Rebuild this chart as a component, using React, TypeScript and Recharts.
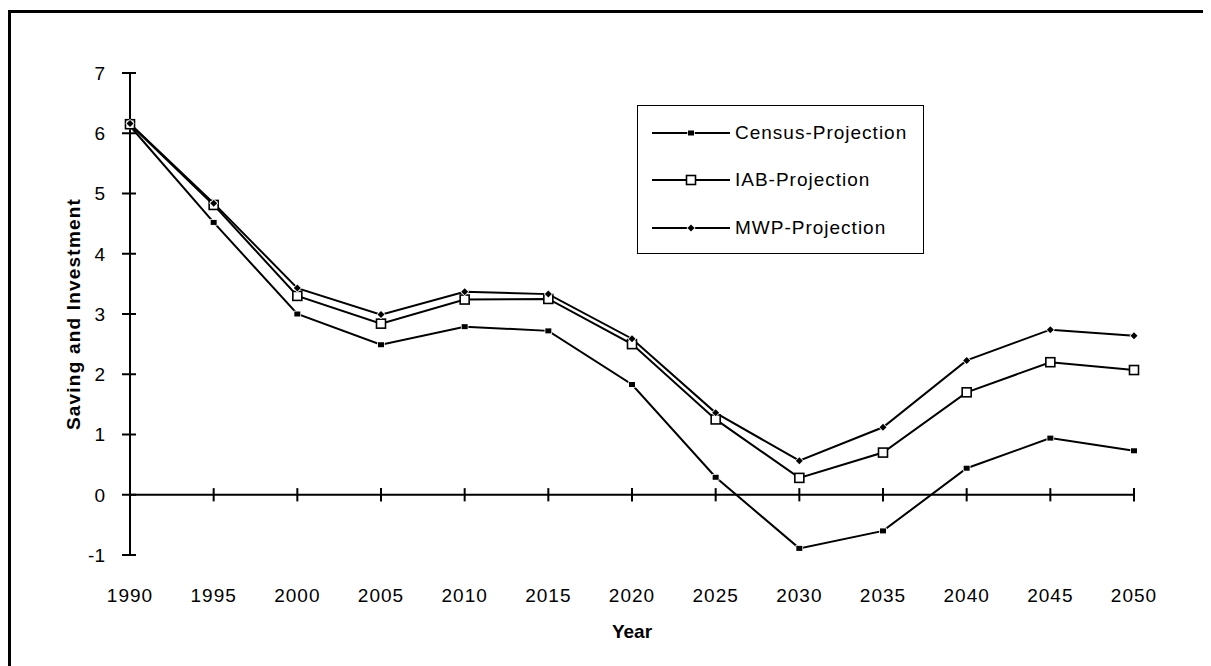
import React from "react";
import { LineChart, Line, XAxis, YAxis, ReferenceLine } from "recharts";

const years = [1990, 1995, 2000, 2005, 2010, 2015, 2020, 2025, 2030, 2035, 2040, 2045, 2050];
const census = [6.12, 4.52, 3.0, 2.49, 2.79, 2.72, 1.83, 0.29, -0.89, -0.6, 0.44, 0.94, 0.73];
const iab = [6.15, 4.81, 3.3, 2.84, 3.24, 3.25, 2.5, 1.25, 0.28, 0.7, 1.7, 2.2, 2.07];
const mwp = [6.16, 4.84, 3.43, 2.99, 3.37, 3.33, 2.59, 1.36, 0.565, 1.12, 2.23, 2.74, 2.64];
const yTicks = [-1, 0, 1, 2, 3, 4, 5, 6, 7];

const series = [
  { key: "census", name: "Census-Projection", shape: "square" as const },
  { key: "iab", name: "IAB-Projection", shape: "open" as const },
  { key: "mwp", name: "MWP-Projection", shape: "diamond" as const },
];

const data = years.map((year, i) => ({ year, census: census[i], iab: iab[i], mwp: mwp[i] }));

const FONT = "'Liberation Sans', Arial, sans-serif";

type Shape = "square" | "open" | "diamond";

function Marker({ cx, cy, shape }: { cx: number; cy: number; shape: Shape }) {
  if (cx == null || cy == null) return null;
  if (shape === "square") {
    return <rect x={cx - 3} y={cy - 2.5} width={6} height={5} fill="#000" stroke="#fff" strokeWidth={1.5} paintOrder="stroke" />;
  }
  if (shape === "open") {
    return <rect x={cx - 4.5} y={cy - 4.5} width={9} height={9} fill="#fff" stroke="#000" strokeWidth={1.6} />;
  }
  return (
    <path
      d={`M${cx},${cy - 3.5} L${cx + 3.5},${cy} L${cx},${cy + 3.5} L${cx - 3.5},${cy} Z`}
      fill="#000"
      stroke="#fff"
      strokeWidth={1.5}
      paintOrder="stroke"
    />
  );
}

function YTick(props: any) {
  const { x, y, payload } = props;
  return (
    <g>
      <line x1={x - 8} x2={x + 6} y1={y} y2={y} stroke="#000" strokeWidth={2} />
      <text x={x - 25} y={y} dy="0.36em" textAnchor="end" fontFamily={FONT} fontSize={19} fill="#000">
        {payload.value}
      </text>
    </g>
  );
}

function XTick(props: any) {
  const { x, y, payload } = props;
  return (
    <text x={x} y={y + 40} dy="0.36em" textAnchor="middle" fontFamily={FONT} fontSize={19} letterSpacing={1} fill="#000">
      {payload.value}
    </text>
  );
}

function LegendBox() {
  return (
    <div
      style={{
        position: "absolute",
        left: 629,
        top: 95,
        width: 287,
        height: 149,
        border: "1.5px solid #000",
        boxSizing: "border-box",
        background: "#fff",
        paddingTop: 3,
      }}
    >
      {series.map((s) => (
        <div key={s.key} style={{ display: "flex", alignItems: "center", height: 47.5 }}>
          <svg width={96} height={14} style={{ marginLeft: 14 }}>
            <line x1={0} x2={78} y1={7} y2={7} stroke="#000" strokeWidth={2} />
            <Marker cx={39} cy={7} shape={s.shape} />
          </svg>
          <span style={{ fontFamily: FONT, fontSize: 19, letterSpacing: 1, marginLeft: -13 }}>{s.name}</span>
        </div>
      ))}
    </div>
  );
}

export default function App() {
  return (
    <div style={{ position: "relative", top: 2 }}>
      <style>{"body{overflow:hidden}"}</style>
      <div style={{ border: "3px solid #000", width: 1220, height: 670, background: "#fff" }}>
        <LineChart width={1205} height={660} data={data} margin={{ top: 60, right: 82, left: 59, bottom: 28 }}>
          <XAxis
            dataKey="year"
            type="number"
            domain={[1990, 2050]}
            ticks={years}
            axisLine={false}
            tickLine={false}
            tickSize={0}
            tickMargin={0}
            height={90}
            tick={<XTick />}
            label={{ value: "Year", position: "insideBottom", offset: 7, style: { fontFamily: FONT, fontSize: 19, fontWeight: "bold", fill: "#000" } }}
          />
          <YAxis
            domain={[-1, 7]}
            ticks={yTicks}
            width={60}
            axisLine={{ stroke: "#000", strokeWidth: 2 }}
            tickLine={false}
            tickSize={0}
            tickMargin={0}
            tick={<YTick />}
            interval={0}
            label={{
              value: "Saving and Investment",
              angle: -90,
              position: "insideLeft",
              offset: 3,
              style: { textAnchor: "middle", fontFamily: FONT, fontSize: 19, letterSpacing: 1.2, fontWeight: "bold", fill: "#000" },
            }}
          />
          <ReferenceLine y={0} stroke="#000" strokeWidth={2} />
          {years.map((yr) => (
            <ReferenceLine
              key={yr}
              segment={[
                { x: yr, y: -0.11 },
                { x: yr, y: 0.11 },
              ]}
              stroke="#000"
              strokeWidth={2}
            />
          ))}
          {series.map((s) => (
            <Line
              key={s.key}
              dataKey={s.key}
              name={s.name}
              stroke="#000"
              strokeWidth={2}
              isAnimationActive={false}
              dot={(p: any) => <Marker key={p.index} cx={p.cx} cy={p.cy} shape={s.shape} />}
            />
          ))}
        </LineChart>
      </div>
      <LegendBox />
    </div>
  );
}
